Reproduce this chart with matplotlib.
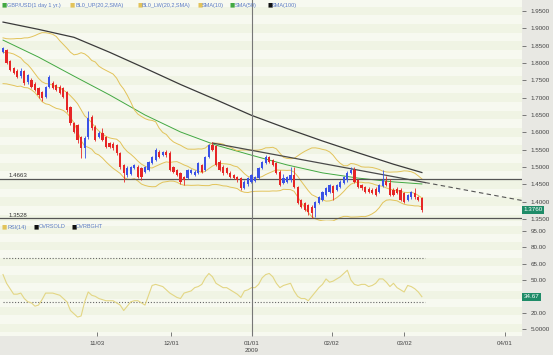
import numpy as np
import pandas as pd
import matplotlib
matplotlib.use("Agg")
import matplotlib.pyplot as plt
from matplotlib.transforms import blended_transform_factory

# daily GBP/USD bars, late Sep 2008 -> early Mar 2009
opens = [1.832, 1.838, 1.806, 1.785, 1.778, 1.762, 1.776, 1.744, 1.751, 1.740,
         1.728, 1.716, 1.702, 1.731, 1.742, 1.736, 1.731, 1.728, 1.716, 1.673,
         1.627, 1.621, 1.586, 1.555, 1.586, 1.644, 1.615, 1.587, 1.598, 1.586,
         1.569, 1.566, 1.563, 1.540, 1.506, 1.477, 1.480, 1.497, 1.500, 1.497,
         1.486, 1.491, 1.511, 1.520, 1.543, 1.535, 1.543, 1.540, 1.500, 1.491,
         1.483, 1.471, 1.468, 1.483, 1.477, 1.483, 1.506, 1.491, 1.530, 1.563,
         1.560, 1.515, 1.500, 1.497, 1.483, 1.477, 1.471, 1.468, 1.440, 1.450,
         1.457, 1.460, 1.468, 1.497, 1.511, 1.529, 1.520, 1.511, 1.486, 1.454,
         1.457, 1.462, 1.477, 1.442, 1.404, 1.396, 1.390, 1.385, 1.382, 1.396,
         1.405, 1.419, 1.428, 1.445, 1.434, 1.442, 1.454, 1.462, 1.483, 1.491,
         1.462, 1.448, 1.442, 1.437, 1.434, 1.437, 1.428, 1.445, 1.460, 1.454,
         1.434, 1.437, 1.434, 1.425, 1.405, 1.413, 1.425, 1.413, 1.410]
highs = [1.846, 1.841, 1.809, 1.789, 1.782, 1.786, 1.780, 1.768, 1.756, 1.745,
         1.732, 1.720, 1.735, 1.766, 1.748, 1.740, 1.736, 1.732, 1.720, 1.676,
         1.631, 1.625, 1.590, 1.588, 1.662, 1.650, 1.620, 1.603, 1.612, 1.590,
         1.573, 1.572, 1.567, 1.544, 1.510, 1.502, 1.503, 1.510, 1.506, 1.500,
         1.504, 1.518, 1.533, 1.556, 1.548, 1.546, 1.550, 1.545, 1.503, 1.495,
         1.486, 1.475, 1.495, 1.494, 1.490, 1.515, 1.510, 1.533, 1.567, 1.572,
         1.563, 1.520, 1.505, 1.500, 1.487, 1.481, 1.475, 1.471, 1.462, 1.472,
         1.481, 1.475, 1.500, 1.518, 1.534, 1.533, 1.524, 1.515, 1.490, 1.480,
         1.475, 1.500, 1.499, 1.446, 1.408, 1.400, 1.394, 1.389, 1.403, 1.417,
         1.432, 1.443, 1.452, 1.449, 1.452, 1.461, 1.475, 1.487, 1.500, 1.500,
         1.466, 1.452, 1.446, 1.441, 1.438, 1.441, 1.452, 1.490, 1.475, 1.465,
         1.438, 1.441, 1.438, 1.429, 1.423, 1.432, 1.440, 1.417, 1.414]
lows = [1.829, 1.797, 1.776, 1.768, 1.756, 1.758, 1.737, 1.740, 1.727, 1.718,
        1.700, 1.690, 1.698, 1.727, 1.724, 1.718, 1.710, 1.698, 1.660, 1.622,
        1.598, 1.570, 1.527, 1.527, 1.582, 1.608, 1.574, 1.583, 1.575, 1.555,
        1.554, 1.550, 1.536, 1.494, 1.457, 1.470, 1.476, 1.494, 1.467, 1.462,
        1.482, 1.488, 1.508, 1.517, 1.526, 1.531, 1.530, 1.487, 1.482, 1.473,
        1.450, 1.448, 1.465, 1.480, 1.474, 1.480, 1.482, 1.488, 1.527, 1.545,
        1.502, 1.487, 1.478, 1.480, 1.468, 1.465, 1.458, 1.434, 1.436, 1.446,
        1.453, 1.456, 1.465, 1.494, 1.508, 1.511, 1.503, 1.480, 1.444, 1.450,
        1.453, 1.458, 1.438, 1.392, 1.381, 1.372, 1.362, 1.353, 1.355, 1.392,
        1.401, 1.415, 1.424, 1.405, 1.430, 1.438, 1.450, 1.458, 1.479, 1.453,
        1.438, 1.435, 1.424, 1.424, 1.421, 1.415, 1.424, 1.441, 1.444, 1.415,
        1.415, 1.421, 1.401, 1.395, 1.401, 1.409, 1.409, 1.401, 1.370]
closes = [1.843, 1.800, 1.780, 1.771, 1.760, 1.778, 1.742, 1.765, 1.731, 1.722,
          1.708, 1.699, 1.731, 1.760, 1.728, 1.722, 1.713, 1.702, 1.664, 1.627,
          1.601, 1.578, 1.555, 1.584, 1.641, 1.612, 1.578, 1.598, 1.578, 1.558,
          1.558, 1.555, 1.540, 1.500, 1.483, 1.497, 1.500, 1.506, 1.471, 1.471,
          1.500, 1.514, 1.529, 1.549, 1.529, 1.543, 1.535, 1.491, 1.486, 1.477,
          1.457, 1.462, 1.491, 1.491, 1.486, 1.511, 1.486, 1.530, 1.563, 1.549,
          1.506, 1.491, 1.482, 1.483, 1.471, 1.468, 1.462, 1.439, 1.457, 1.468,
          1.477, 1.471, 1.497, 1.514, 1.529, 1.514, 1.506, 1.483, 1.448, 1.468,
          1.471, 1.477, 1.442, 1.396, 1.385, 1.376, 1.370, 1.367, 1.399, 1.413,
          1.428, 1.439, 1.448, 1.425, 1.448, 1.457, 1.471, 1.483, 1.491, 1.457,
          1.442, 1.439, 1.428, 1.428, 1.425, 1.419, 1.448, 1.462, 1.448, 1.419,
          1.419, 1.425, 1.405, 1.399, 1.419, 1.428, 1.413, 1.405, 1.376]

# closes before the visible window (needed for SMA(10) / Bollinger(20))
pre_closes = [1.830, 1.810, 1.790, 1.780, 1.770, 1.765, 1.770, 1.760, 1.765, 1.785,
              1.800, 1.795, 1.800, 1.815, 1.835, 1.860, 1.845, 1.850, 1.860]

# long moving averages (bar index -> value)
sma100_idx = [0, 10, 20, 30, 40, 50, 60, 70, 80, 90, 100, 110, 118]
sma100_val = [1.918, 1.897, 1.874, 1.831, 1.785, 1.738, 1.694, 1.649, 1.611, 1.575, 1.541, 1.508, 1.484]
sma50_idx = [0, 10, 20, 30, 40, 50, 60, 70, 80, 90, 100, 110, 118]
sma50_val = [1.866, 1.817, 1.762, 1.708, 1.650, 1.601, 1.563, 1.534, 1.506, 1.483, 1.468, 1.457, 1.451]

rsi = [55, 47, 42, 37, 37, 38, 33, 30, 29, 26, 27, 32, 38, 38, 38, 37, 36, 33, 30, 22,
       19, 16, 17, 30, 39, 36, 35, 33, 32, 31, 31, 31, 29, 27, 22, 26, 30, 31, 31, 29,
       27, 36, 45, 46, 45, 44, 41, 38, 36, 34, 33, 38, 39, 40, 43, 44, 46, 52, 56, 53,
       47, 45, 43, 43, 41, 39, 37, 34, 40, 41, 43, 43, 46, 52, 55, 56, 53, 47, 43, 45,
       46, 47, 40, 35, 33, 33, 31, 35, 39, 43, 46, 51, 48, 49, 51, 53, 56, 59, 50, 46,
       45, 46, 46, 44, 45, 47, 51, 51, 48, 44, 47, 43, 41, 39, 45, 44, 42, 39, 34.67]

support_levels = [1.4663, 1.3528]
trend_idx = [59, 119]
trend_val = [1.569, 1.455]
overbought, oversold = 70, 30

tick_idx = [26.5, 47.3, 70.1, 92.7, 113.0, 141.4]
tick_lbl = ['11/03', '12/01', '01/01', '02/02', '03/02', '04/01']
year_idx = 70.1

price_ticks = [1.35, 1.40, 1.45, 1.50, 1.55, 1.60, 1.65, 1.70, 1.75, 1.80, 1.85, 1.90, 1.95]
rsi_ticks = [5, 20, 35, 50, 65, 80, 95]
rsi_tick_lbl = ['5.0000', '20.00', '', '50.00', '65.00', '80.00', '95.00']

UP = '#3b52e6'
DOWN = '#e62626'
YEL = '#e2c35a'
GRN = '#42a842'
TXT = '#444444'
LEG = '#5b7bc4'
BOX = '#1f8c68'


def stripes(ax, lo, hi, step):
    edges = np.arange(lo, hi, step)
    for k, e in enumerate(edges):
        ax.axhspan(e, e + step, color='#f0f4e4' if k % 2 else '#f7f9f0', lw=0, zorder=0)


def main():
    plt.rcParams['font.family'] = ['Liberation Sans', 'DejaVu Sans']
    n = len(closes)
    idx = np.arange(n)
    o = np.array(opens); h = np.array(highs); l = np.array(lows); c = np.array(closes)

    full = pd.Series(pre_closes + closes)
    sma10 = full.rolling(10).mean().iloc[-n:].values
    mid = full.rolling(20).mean().iloc[-n:].values
    sd = full.rolling(20).std(ddof=0).iloc[-n:].values

    fig = plt.figure(figsize=(5.53, 3.55), dpi=100, facecolor='#e8e8e3')
    ax = fig.add_axes([0, 0.3775, 0.9439, 0.6225])
    ax2 = fig.add_axes([0, 0.0535, 0.9439, 0.324])
    xlim = (-0.85, 146.2)

    # price panel
    stripes(ax, 1.3125, 2.0, 0.025)
    ax.plot(sma100_idx, sma100_val, color='#3a3a3a', lw=0.9, zorder=2)
    ax.plot(sma50_idx, sma50_val, color=GRN, lw=0.7, zorder=2)
    ax.plot(idx, mid + 2 * sd, color=YEL, lw=0.7, zorder=2)
    ax.plot(idx, mid - 2 * sd, color=YEL, lw=0.7, zorder=2)
    ax.plot(idx, sma10, color=YEL, lw=0.7, zorder=2)

    for lev in support_levels:
        ax.axhline(lev, color='#555555', lw=0.9, zorder=2)
        ax.text(1.5, lev + 0.001, '%.4f' % lev, fontsize=4.4, color='#333333', va='bottom', zorder=5)

    slope = (trend_val[1] - trend_val[0]) / (trend_idx[1] - trend_idx[0])
    ax.plot(trend_idx, trend_val, color='#4a4a4a', lw=0.9, zorder=2)
    ax.plot([trend_idx[1], xlim[1]], [trend_val[1], trend_val[1] + slope * (xlim[1] - trend_idx[1])],
            color='#555555', lw=0.8, ls=(0, (4, 3)), zorder=2)

    cols = np.where(c >= o, UP, DOWN)
    ax.vlines(idx, l, h, colors=cols, lw=0.6, zorder=3)
    body = np.maximum(np.abs(c - o), 0.0015)
    ax.bar(idx, body, bottom=np.minimum(o, c), width=0.62, color=cols, lw=0, zorder=4)

    ax.axvline(year_idx, color='#777777', lw=0.8, zorder=3)
    ax.set_xlim(*xlim)
    ax.set_ylim(1.3442, 1.9817)
    ax.set_xticks([])
    ax.yaxis.tick_right()
    ax.set_yticks(price_ticks)
    ax.set_yticklabels(['%.4f' % t for t in price_ticks])
    ax.tick_params(axis='y', length=3, width=0.6, color='#666666', pad=3,
                   labelsize=4.5, labelcolor=TXT)

    tr = blended_transform_factory(ax.transAxes, ax.transData)
    ax.text(1.003, c[-1], '%.4f' % c[-1], transform=tr, fontsize=4.5, color='white', va='center',
            ha='left', bbox=dict(boxstyle='square,pad=0.25', fc=BOX, ec='none'), zorder=6, clip_on=False)

    # RSI panel
    stripes(ax2, -5, 110, 7.5)
    ax2.hlines([overbought, oversold], 0, n, colors='#666666', lw=0.8, linestyles=(0, (1, 1.6)), zorder=2)
    ax2.plot(idx, rsi, color='#e3d684', lw=0.8, zorder=3)
    ax2.axvline(year_idx, color='#777777', lw=0.8, zorder=3)
    ax2.set_xlim(*xlim)
    ax2.set_ylim(-1.4, 104.2)
    ax2.yaxis.tick_right()
    ax2.set_yticks(rsi_ticks)
    ax2.set_yticklabels(rsi_tick_lbl)
    ax2.tick_params(axis='y', length=3, width=0.6, color='#666666', pad=3,
                    labelsize=4.5, labelcolor=TXT)
    ax2.set_xticks(tick_idx)
    ax2.set_xticklabels(tick_lbl)
    ax2.tick_params(axis='x', direction='in', length=3, width=0.6, color='#666666', pad=3.5,
                    labelsize=4.5, labelcolor=TXT)
    tr2 = blended_transform_factory(ax2.transAxes, ax2.transData)
    ax2.text(1.003, rsi[-1], '%.2f' % rsi[-1], transform=tr2, fontsize=4.5, color='white', va='center',
             ha='left', bbox=dict(boxstyle='square,pad=0.25', fc=BOX, ec='none'), zorder=6, clip_on=False)

    for a in (ax, ax2):
        for s in a.spines.values():
            s.set_visible(False)

    fig.text(252 / 553, 1 - 351 / 355, '2009', fontsize=4.5, color=TXT, ha='center', va='center')

    # legends
    price_leg = [('GBP/USD(1 day 1 yr.)', GRN, 2), ('BL0_UP(20,2,SMA)', YEL, 70),
                 ('BL0_LW(20,2,SMA)', YEL, 137), ('SMA(10)', YEL, 197),
                 ('SMA(50)', GRN, 230), ('SMA(100)', '#111111', 267)]
    rsi_leg = [('RSI(14)', YEL, 2), ('OVRSOLD', '#111111', 34), ('OVRBGHT', '#111111', 71)]
    for items, ypx in ((price_leg, 5), (rsi_leg, 227)):
        for name, col, xpx in items:
            fig.text(xpx / 553, 1 - ypx / 355, '\u25a0', fontsize=4.0, color=col, va='center',
                     family='DejaVu Sans')
            fig.text((xpx + 5) / 553, 1 - ypx / 355, name, fontsize=4.0, color=LEG, va='center')

    fig.savefig('out.png', dpi=100, facecolor=fig.get_facecolor())


if __name__ == "__main__":
    main()
